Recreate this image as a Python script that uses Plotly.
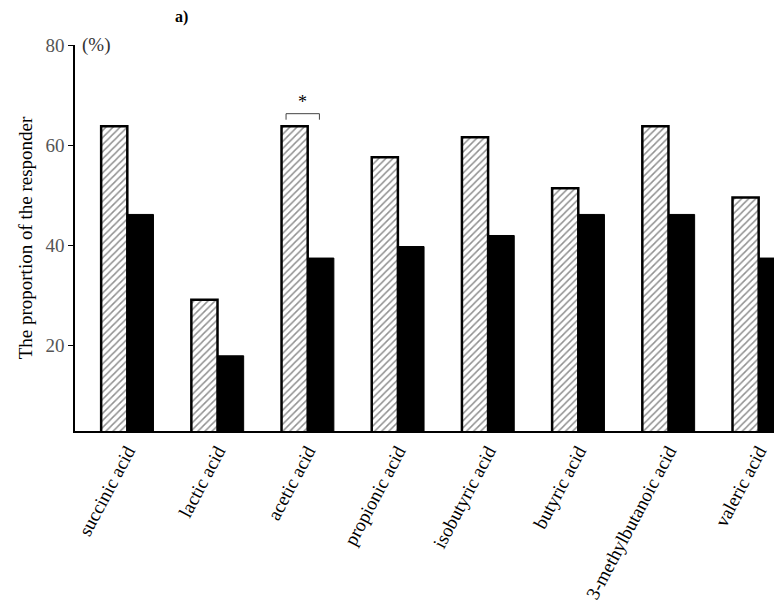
import plotly.graph_objects as go

acids = ["succinic acid", "lactic acid", "acetic acid", "propionic acid",
         "isobutyric acid", "butyric acid", "3-methylbutanoic acid", "valeric acid"]
hatched_vals = [63.8, 29.2, 63.8, 57.6, 61.6, 51.4, 63.8, 49.6]
black_vals = [46.2, 18.0, 37.5, 39.8, 42.0, 46.2, 46.2, 37.5]

serif = "Liberation Serif"

fig = go.Figure()
fig.add_trace(go.Bar(
    x=acids, y=hatched_vals, name="hatched",
    marker=dict(color="white",
                pattern=dict(shape="/", fgcolor="#222", bgcolor="white", size=5, solidity=0.3),
                line=dict(color="black", width=2.5)),
))
fig.add_trace(go.Bar(
    x=acids, y=black_vals, name="black",
    marker=dict(color="black", line=dict(color="black", width=1)),
))

# significance bracket over acetic acid
fig.add_shape(type="path", xref="x", yref="y",
              path="M 1.76 65.1 L 1.76 66.3 L 2.13 66.3 L 2.13 65.1",
              line=dict(color="#444", width=1))
fig.add_annotation(x=1.945, y=66.3, xref="x", yref="y", text="*", showarrow=False,
                   yanchor="bottom", font=dict(family=serif, size=18, color="black"))

fig.add_annotation(x=0.007, y=80, xref="paper", yref="y", text="(%)", showarrow=False,
                   xanchor="left", font=dict(family=serif, size=19, color="#333"))
fig.add_annotation(x=0.14, y=1.045, xref="paper", yref="paper", text="<b>a)</b>",
                   showarrow=False, yanchor="bottom",
                   font=dict(family=serif, size=16, color="black"))

fig.update_layout(
    width=784, height=603,
    margin=dict(l=67, r=18, t=37, b=180),
    plot_bgcolor="white", paper_bgcolor="white",
    barmode="group", bargap=0.42, bargroupgap=0,
    showlegend=False,
    font=dict(family=serif, color="black"),
)
fig.update_xaxes(
    range=[-0.58, 7.17], showline=True, linecolor="black", linewidth=1.5,
    tickangle=-62, tickfont=dict(family=serif, size=19, color="black"),
    ticks="", showgrid=False, automargin=False,
)
fig.update_yaxes(
    range=[3, 80], tickvals=[20, 40, 60, 80], showline=True, linecolor="black",
    linewidth=1.5, ticks="outside", ticklen=5, tickcolor="black", showgrid=False,
    zeroline=False, tickfont=dict(family=serif, size=19, color="#555"),
    automargin=False,
    title=dict(text="The proportion of the responder", font=dict(family=serif, size=19),
               standoff=8),
)

fig.write_html("out.html")
